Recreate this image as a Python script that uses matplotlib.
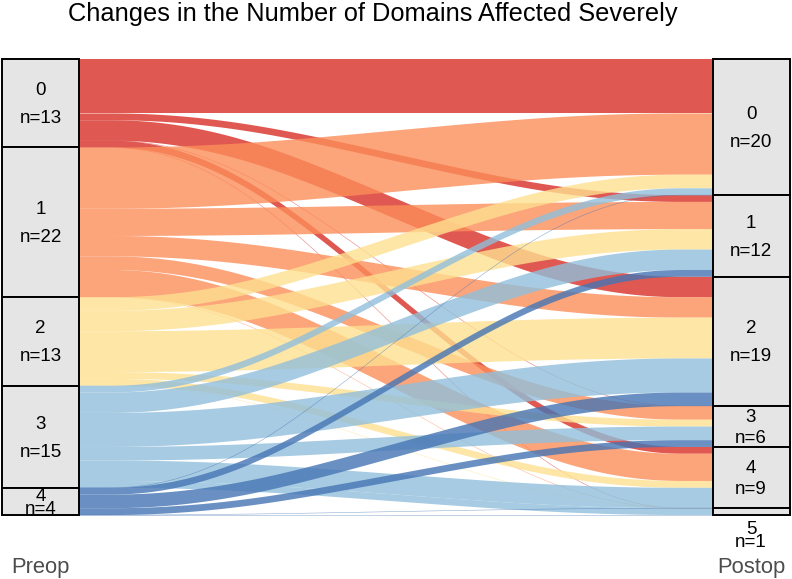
import numpy as np
import matplotlib
matplotlib.use("Agg")
import matplotlib.pyplot as plt
from matplotlib.patches import Polygon, Rectangle

plt.rcParams['font.family'] = ['Liberation Sans', 'DejaVu Sans']

# ---------------- data ----------------
title = "Changes in the Number of Domains Affected Severely"
axis_names = ["Preop", "Postop"]
preop_levels = ["0", "1", "2", "3", "4"]
postop_levels = ["0", "1", "2", "3", "4", "5"]
# number of patients moving from preop level (row) to postop level (column)
from_0 = [8, 1, 3, 0, 1, 0]
from_1 = [9, 4, 3, 2, 4, 0]
from_2 = [2, 3, 6, 1, 1, 0]
from_3 = [1, 3, 5, 2, 3, 1]
from_4 = [0, 1, 2, 1, 0, 0]
level_colors = ["#d73027", "#fc8d59", "#fee090", "#91bfdb", "#4575b4"]

F = np.array([from_0, from_1, from_2, from_3, from_4], dtype=float)
pre_tot = F.sum(axis=1)
post_tot = F.sum(axis=0)
N = F.sum()

# ---------------- layout ----------------
W, H = 792, 579
fig = plt.figure(figsize=(W / 100, H / 100), dpi=100)
ax = fig.add_axes([0, 0, 1, 1])
xpx = 710.5          # pixels per x unit
x1px = 40.5          # pixel of x = 1
ypx = 456.0 / N      # pixels per count
y0px = 59.0          # pixel of top of strata
ax.set_xlim(1 - x1px / xpx, 1 + (W - x1px) / xpx)
ax.set_ylim((H - y0px) / ypx, -y0px / ypx)
ax.axis("off")

bw = 38.5 / xpx      # half stratum width
xs, xe = 1 + bw, 2 - bw

pre_top = np.concatenate([[0], np.cumsum(pre_tot)[:-1]])
post_top = np.concatenate([[0], np.cumsum(post_tot)[:-1]])


def bspline(x0, y0, x1, y1, n=60):
    w = x1 - x0
    P = np.array([(x0, y0)] * 3 + [(x0 + w / 4, y0), (x0 + 3 * w / 4, y1)] + [(x1, y1)] * 3)
    pts = []
    t = np.linspace(0, 1, n)
    b0 = (1 - t) ** 3 / 6
    b1 = (3 * t ** 3 - 6 * t ** 2 + 4) / 6
    b2 = (-3 * t ** 3 + 3 * t ** 2 + 3 * t + 1) / 6
    b3 = t ** 3 / 6
    for i in range(len(P) - 3):
        seg = (np.outer(b0, P[i]) + np.outer(b1, P[i + 1]) +
               np.outer(b2, P[i + 2]) + np.outer(b3, P[i + 3]))
        pts.append(seg if i == 0 else seg[1:])
    return np.vstack(pts)


# flows: drawn by source level (later levels on top)
for i in range(F.shape[0]):
    for j in range(F.shape[1]):
        ys0 = pre_top[i] + F[i, :j].sum()
        ye0 = post_top[j] + F[:i, j].sum()
        w = F[i, j]
        top = bspline(xs, ys0, xe, ye0)
        if w > 0:
            bot = bspline(xs, ys0 + w, xe, ye0 + w)[::-1]
            poly = Polygon(np.vstack([top, bot]), closed=True, facecolor=level_colors[i],
                           edgecolor="none", alpha=0.8, zorder=2)
            ax.add_patch(poly)
        else:
            ax.plot(top[:, 0], top[:, 1], color=level_colors[i], lw=0.4, alpha=0.6, zorder=2)

# strata
def draw_axis(x, tops, tots, levels):
    for k, (t, n) in enumerate(zip(tops, tots)):
        ax.add_patch(Rectangle((x - bw, t), 2 * bw, n, facecolor="#e5e5e5",
                               edgecolor="black", lw=1.4, zorder=3))
        c = t + n / 2
        hp = n * ypx
        if hp >= 80:
            off = 14
        elif hp >= 35:
            off = 10.5
        else:
            off = 6.5
        if n < 2:
            shift = 23 / ypx
        else:
            shift = 0
        ax.text(x, c + shift - off / ypx + 1.5 / ypx, levels[k], ha="center", va="center",
                fontsize=13.5, zorder=4, clip_on=False)
        ax.text(x, c + shift + off / ypx + 1.5 / ypx, f"n={int(n)}", ha="center", va="center",
                fontsize=13.5, zorder=4, clip_on=False)

draw_axis(1, pre_top, pre_tot, preop_levels)
draw_axis(2, post_top, post_tot, postop_levels)

for x, name in zip([1, 2], axis_names):
    ax.text(x, (567 - y0px) / ypx, name, ha="center", va="center", fontsize=15.8,
            color="#4d4d4d")

fig.text(372.5 / W, 1 - 14.5 / H, title, ha="center", va="center", fontsize=18.3)

fig.savefig("out.png", dpi=100)
